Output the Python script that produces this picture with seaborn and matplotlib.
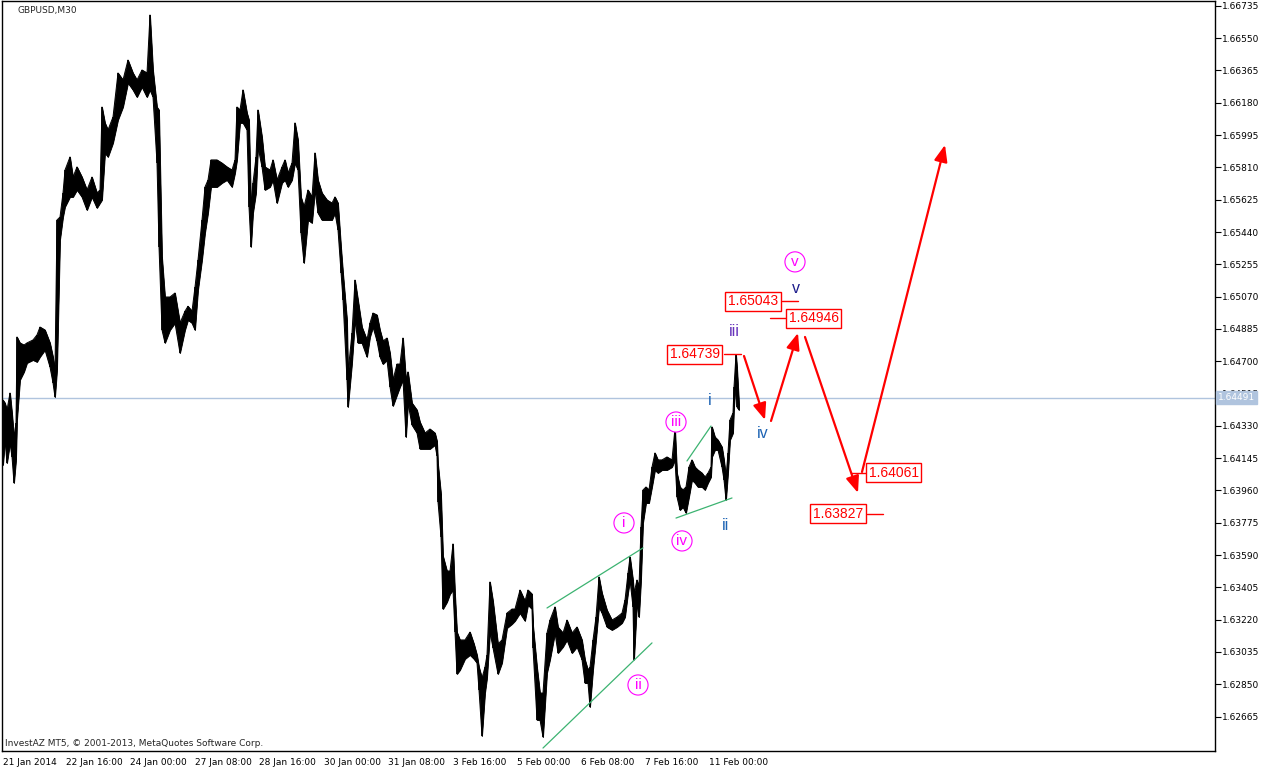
import numpy as np
import pandas as pd
import seaborn as sns
import matplotlib.pyplot as plt
from matplotlib.transforms import blended_transform_factory

sns.set_style('white')
plt.rcParams['font.family'] = ['DejaVu Sans']

# GBPUSD M30 - bar number counted from the left edge, high / low
bars = [0, 2, 4, 7, 9, 11, 13, 14, 17, 21,
        24, 30, 34, 37, 42, 47, 50, 52, 54, 57,
        60, 62, 67, 70, 74, 79, 84, 89, 94, 97,
        99, 102, 105, 110, 115, 120, 125, 130, 134, 139,
        144, 147, 150, 154, 156, 159, 162, 167, 172, 177,
        182, 185, 189, 192, 195, 199, 202, 205, 208, 214,
        219, 224, 229, 232, 234, 237, 240, 244, 246, 248,
        250, 253, 255, 259, 262, 267, 270, 274, 279, 282,
        285, 289, 292, 295, 298, 301, 305, 309, 312, 315,
        319, 324, 329, 332, 335, 338, 340, 344, 345, 349,
        352, 355, 359, 364, 367, 370, 374, 377, 380, 384,
        387, 390, 394, 397, 400, 403, 405, 409, 414, 417,
        422, 427, 432, 434, 435, 438, 440, 444, 447, 450,
        452, 454, 457, 462, 467, 471, 474, 476, 479, 482,
        484, 487, 490, 495, 499, 504, 509, 512, 517, 522,
        525, 529, 530, 534, 537, 540, 544, 547, 552, 555,
        560, 564, 569, 574, 579, 582, 585, 587, 590, 593,
        596, 599, 604, 609, 614, 619, 622, 625, 627, 630,
        631, 634, 636, 638, 640, 643, 646, 649, 652, 655,
        659, 664, 669, 672, 674, 677, 680, 683, 686, 689,
        692, 695, 699, 702, 705, 708, 709, 712, 715, 719,
        721, 723, 725, 727, 730, 731, 733, 734, 736]

highs = [1.64478, 1.64461, 1.64421, 1.64518, 1.64404, 1.64266, 1.64347, 1.64839, 1.64805, 1.64793,
         1.64805, 1.64822, 1.64851, 1.64896, 1.64879, 1.64805, 1.64725, 1.64650, 1.65509, 1.65526,
         1.65664, 1.65795, 1.65870, 1.65755, 1.65813, 1.65755, 1.65681, 1.65755, 1.65664, 1.65681,
         1.66156, 1.66065, 1.66025, 1.66099, 1.66351, 1.66311, 1.66425, 1.66351, 1.66311, 1.66368,
         1.66351, 1.66683, 1.66368, 1.66156, 1.66139, 1.65297, 1.65068, 1.65068, 1.65091, 1.64919,
         1.64987, 1.65015, 1.64987, 1.65125, 1.65280, 1.65509, 1.65698, 1.65738, 1.65853, 1.65853,
         1.65835, 1.65813, 1.65795, 1.65853, 1.66156, 1.66139, 1.66254, 1.66122, 1.66082, 1.65584,
         1.65721, 1.65870, 1.66139, 1.65985, 1.65813, 1.65795, 1.65853, 1.65738, 1.65813, 1.65853,
         1.65778, 1.65835, 1.66065, 1.65967, 1.65641, 1.65584, 1.65681, 1.65641, 1.65893, 1.65738,
         1.65664, 1.65624, 1.65606, 1.65641, 1.65606, 1.65355, 1.65206, 1.64936, 1.64633, 1.64862,
         1.65165, 1.65051, 1.64896, 1.64822, 1.64919, 1.64976, 1.64965, 1.64879, 1.64816, 1.64833,
         1.64747, 1.64593, 1.64684, 1.64684, 1.64833, 1.64593, 1.64639, 1.64461, 1.64421, 1.64352,
         1.64289, 1.64312, 1.64289, 1.64243, 1.64112, 1.63940, 1.63585, 1.63499, 1.63499, 1.63654,
         1.63367, 1.63149, 1.63104, 1.63104, 1.63149, 1.63081, 1.63018, 1.62949, 1.62886, 1.62949,
         1.63018, 1.63436, 1.63327, 1.63081, 1.63104, 1.63258, 1.63281, 1.63281, 1.63390, 1.63327,
         1.63390, 1.63367, 1.63190, 1.62949, 1.62800, 1.62800, 1.63144, 1.63218, 1.63293, 1.63178,
         1.63144, 1.63218, 1.63144, 1.63178, 1.63104, 1.62991, 1.62932, 1.62949, 1.63104, 1.63235,
         1.63465, 1.63373, 1.63275, 1.63218, 1.63235, 1.63258, 1.63333, 1.63487, 1.63579, 1.63447,
         1.63373, 1.63447, 1.63407, 1.63751, 1.63963, 1.63980, 1.63963, 1.64094, 1.64175, 1.64135,
         1.64135, 1.64152, 1.64135, 1.64318, 1.64060, 1.63980, 1.63963, 1.63980, 1.64094, 1.64135,
         1.64094, 1.64077, 1.64060, 1.64037, 1.64060, 1.64094, 1.64324, 1.64266, 1.64249, 1.64209,
         1.64135, 1.64037, 1.64175, 1.64364, 1.64404, 1.64553, 1.64739, 1.64667, 1.64456]

lows = [1.64106, 1.64249, 1.64117, 1.64232, 1.64152, 1.64003, 1.64135, 1.64364, 1.64593, 1.64639,
        1.64690, 1.64707, 1.64696, 1.64725, 1.64765, 1.64667, 1.64576, 1.64495, 1.64650, 1.65395,
        1.65526, 1.65584, 1.65641, 1.65641, 1.65681, 1.65641, 1.65566, 1.65641, 1.65578, 1.65606,
        1.65624, 1.65893, 1.65870, 1.65950, 1.66082, 1.66156, 1.66294, 1.66254, 1.66213, 1.66271,
        1.66213, 1.66254, 1.66213, 1.65835, 1.65355, 1.64879, 1.64805, 1.64879, 1.64919, 1.64747,
        1.64879, 1.64936, 1.64919, 1.64879, 1.65108, 1.65280, 1.65435, 1.65549, 1.65698, 1.65698,
        1.65721, 1.65738, 1.65698, 1.65778, 1.65853, 1.66065, 1.66065, 1.66025, 1.65584, 1.65355,
        1.65549, 1.65664, 1.65927, 1.65813, 1.65681, 1.65698, 1.65738, 1.65606, 1.65721, 1.65738,
        1.65698, 1.65738, 1.65835, 1.65795, 1.65435, 1.65263, 1.65509, 1.65492, 1.65681, 1.65549,
        1.65509, 1.65509, 1.65509, 1.65549, 1.65452, 1.65206, 1.65051, 1.64593, 1.64438, 1.64690,
        1.64936, 1.64805, 1.64805, 1.64725, 1.64839, 1.64896, 1.64816, 1.64725, 1.64684, 1.64707,
        1.64553, 1.64444, 1.64507, 1.64553, 1.64593, 1.64266, 1.64461, 1.64335, 1.64289, 1.64198,
        1.64198, 1.64198, 1.64221, 1.64158, 1.63894, 1.63694, 1.63281, 1.63321, 1.63367, 1.63390,
        1.63149, 1.62909, 1.62932, 1.62995, 1.63018, 1.62995, 1.62972, 1.62817, 1.62554, 1.62800,
        1.62886, 1.63149, 1.63058, 1.62909, 1.62972, 1.63172, 1.63195, 1.63213, 1.63258, 1.63213,
        1.63304, 1.63281, 1.63058, 1.62646, 1.62646, 1.62548, 1.62915, 1.62991, 1.63144, 1.63029,
        1.63064, 1.63104, 1.63029, 1.63064, 1.62991, 1.62857, 1.62857, 1.62720, 1.62932, 1.63104,
        1.63293, 1.63258, 1.63178, 1.63161, 1.63178, 1.63201, 1.63235, 1.63373, 1.63447, 1.63293,
        1.62991, 1.63316, 1.63235, 1.63447, 1.63774, 1.63888, 1.63888, 1.63980, 1.64077, 1.64060,
        1.64077, 1.64077, 1.64094, 1.64135, 1.63923, 1.63848, 1.63865, 1.63831, 1.63923, 1.64020,
        1.64003, 1.63980, 1.63980, 1.63963, 1.64003, 1.64037, 1.64152, 1.64192, 1.64192, 1.64094,
        1.64020, 1.63906, 1.64060, 1.64249, 1.64289, 1.64438, 1.64593, 1.64438, 1.64421]

last_price = 1.64491

price_ticks = [1.66735, 1.66550, 1.66365, 1.66180, 1.65995, 1.65810, 1.65625, 1.65440,
               1.65255, 1.65070, 1.64885, 1.64700, 1.64515, 1.64330, 1.64145, 1.63960,
               1.63775, 1.63590, 1.63405, 1.63220, 1.63035, 1.62850, 1.62665]

date_ticks = [0, 63, 127, 192, 256, 321, 385, 450, 514, 578, 642, 706]
date_labels = ['21 Jan 2014', '22 Jan 16:00', '24 Jan 00:00', '27 Jan 08:00', '28 Jan 16:00',
               '30 Jan 00:00', '31 Jan 08:00', '3 Feb 16:00', '5 Feb 00:00', '6 Feb 08:00',
               '7 Feb 16:00', '11 Feb 00:00']

# wave count in circles (magenta)
circle_waves = ['i', 'ii', 'iii', 'iv', 'v']
circle_bars = [621, 635, 673, 679, 792]
circle_prices = [1.63774, 1.62846, 1.64352, 1.63671, 1.65269]

# sub-wave count
minor_waves = ['i', 'ii', 'iii', 'iv', 'v']
minor_bars = [707, 723, 731, 760, 793]
minor_prices = [1.64473, 1.63762, 1.64873, 1.64289, 1.65114]
minor_colors = ['#1e64b4', '#1e64b4', '#6633bb', '#1e64b4', '#1c1c8c']

# price target labels
targets = [1.64739, 1.65043, 1.64946, 1.64061, 1.63827]
target_bars = [692, 750, 811, 891, 835]
target_line_start = [721, 779, 767, 848, 864]
target_line_end = [738, 795, 783, 863, 880]

# forecast path
path_bars = [[741, 762], [768, 795], [802, 855], [859, 942]]
path_prices = [[1.64730, 1.64364], [1.64358, 1.64862], [1.64839, 1.63946], [1.64066, 1.65939]]

# channel / triangle lines
channel_bars = [[540, 649], [544, 640], [673, 729], [684, 708]]
channel_prices = [[1.62485, 1.63087], [1.63287, 1.63631], [1.63802, 1.63917], [1.64129, 1.64329]]

fig = plt.figure(figsize=(12.67, 7.71), dpi=100)
ax = fig.add_axes([2 / 1267, 1 - 751 / 771, 1213 / 1267, 750 / 771])

df = pd.DataFrame({'bar': bars, 'high': highs, 'low': lows})

# current price line
ax.axhline(last_price, color='#b0c4de', lw=1, zorder=1)

# price bars
ax.fill_between(df['bar'], df['low'], df['high'], color='black', lw=0.6, zorder=2)
ax.vlines(df['bar'], df['low'], df['high'], color='black', lw=1.2, zorder=2)
sns.lineplot(data=df, x='bar', y='high', color='black', lw=0.7, ax=ax, zorder=2)
sns.lineplot(data=df, x='bar', y='low', color='black', lw=0.7, ax=ax, zorder=2)

for bx, py in zip(channel_bars, channel_prices):
    ax.plot(bx, py, color='#3cb371', lw=0.9, zorder=3)

for lab, bx, py in zip(circle_waves, circle_bars, circle_prices):
    ax.text(bx, py, lab, color='#ff00ff', fontsize=11, family='Liberation Sans',
            ha='center', va='center', zorder=5,
            bbox=dict(boxstyle='circle,pad=0.2', fc='white', ec='#ff00ff', lw=0.8))

for lab, bx, py, c in zip(minor_waves, minor_bars, minor_prices, minor_colors):
    ax.text(bx, py, lab, color=c, fontsize=11.5, family='Liberation Sans',
            ha='center', va='center', zorder=5)

for bx, py in zip(path_bars, path_prices):
    ax.annotate('', xy=(bx[1], py[1]), xytext=(bx[0], py[0]), zorder=4,
                arrowprops=dict(arrowstyle='-|>,head_length=1.0,head_width=0.4',
                                mutation_scale=10, color='red', lw=1.6,
                                shrinkA=0, shrinkB=0))

for tp, bx, x0, x1 in zip(targets, target_bars, target_line_start, target_line_end):
    ax.plot([x0, x1], [tp, tp], color='red', lw=1, zorder=4)
    ax.text(bx, tp, f'{tp:.5f}', color='red', fontsize=10, family='Liberation Sans',
            ha='center', va='center', zorder=6,
            bbox=dict(boxstyle='square,pad=0.18', fc='white', ec='red', lw=1))

ax.set_xlim(-1, 1212)
ax.set_ylim(1.62468, 1.66763)

ax.yaxis.tick_right()
ax.set_yticks(price_ticks)
ax.set_yticklabels([f'{p:.5f}' for p in price_ticks])
ax.set_xticks(date_ticks)
ax.set_xticklabels(date_labels, ha='left')
ax.tick_params(axis='y', direction='out', length=4, width=0.8, pad=1, labelsize=6.5, colors='black')
ax.tick_params(axis='x', direction='out', length=4, width=0.8, pad=1, labelsize=6.5, colors='black')
ax.set_xlabel('')
ax.set_ylabel('')
for s in ax.spines.values():
    s.set_color('black')
    s.set_linewidth(1)

# current price tag on the axis
tr = blended_transform_factory(ax.transAxes, ax.transData)
ax.text(1.0025, last_price, f'{last_price:.5f}', transform=tr, color='white', fontsize=6.5,
        ha='left', va='center', zorder=10, clip_on=False,
        bbox=dict(boxstyle='square,pad=0.2', fc='#b0c4de', ec='#b0c4de'))

fig.text(18 / 1267, 1 - 10 / 771, 'GBPUSD,M30', fontsize=6.5, va='center')
fig.text(5 / 1267, 1 - 743 / 771, 'InvestAZ MT5, \u00a9 2001-2013, MetaQuotes Software Corp.',
         fontsize=6.5, va='center')

fig.savefig('out.png', dpi=100)
